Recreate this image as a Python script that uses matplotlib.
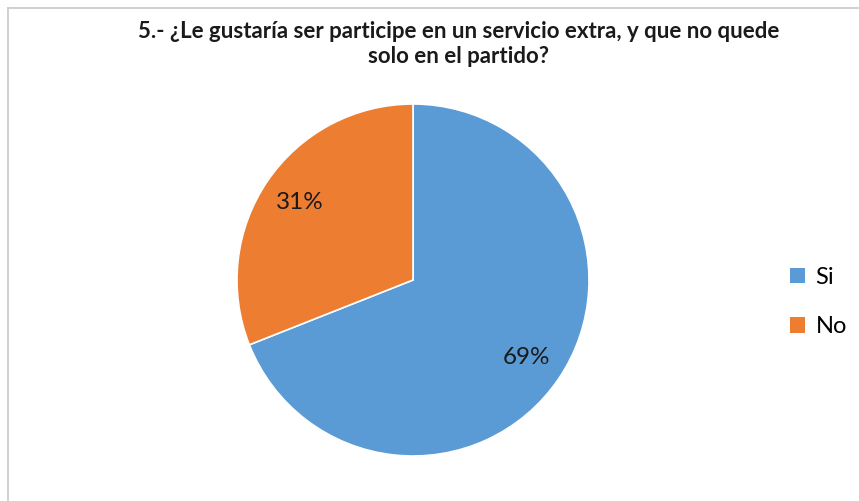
import matplotlib
matplotlib.use("Agg")
import matplotlib.pyplot as plt
from matplotlib.patches import Patch
from matplotlib.lines import Line2D

plt.rcParams['font.family'] = ['Lato', 'DejaVu Sans']

title = "5.- ¿Le gustaría ser participe en un servicio extra, y que no quede\nsolo en el partido?"
labels = ["Si", "No"]
values = [69, 31]
colors = ["#5B9BD5", "#ED7D31"]

W, H = 859, 501
fig = plt.figure(figsize=(W / 100, H / 100), dpi=100)

# chart frame (left and top edges visible)
fig.add_artist(Line2D([8 / W, 8 / W], [0, 1 - 8 / H], color="#c8c8c8", lw=1.2))
fig.add_artist(Line2D([8 / W, 1], [1 - 8 / H, 1 - 8 / H], color="#c8c8c8", lw=1.2))

cx, cy, r = 413, 280, 176
ax = fig.add_axes([(cx - r) / W, (H - cy - r) / H, 2 * r / W, 2 * r / H])
wedges, texts, autotexts = ax.pie(values, colors=colors, startangle=90, counterclock=False,
                                  autopct='%1.0f%%', pctdistance=0.78,
                                  wedgeprops=dict(linewidth=1.2, edgecolor='white'),
                                  textprops=dict(fontsize=17.5, color='#1a1a1a'))
ax.set_xlim(-1, 1)
ax.set_ylim(-1, 1)
ax.set_aspect('equal')
ax.axis('off')

fig.text(459 / W, 1 - 44 / H, title, ha='center', va='center', fontsize=16,
         fontweight='bold', color='#1a1a1a', linespacing=1.25)

handles = [Patch(facecolor=c, label=l) for c, l in zip(colors, labels)]
fig.legend(handles=handles, loc='center left', bbox_to_anchor=(773 / W, 1 - 302 / H),
           frameon=False, fontsize=17, handlelength=0.65, handleheight=0.65,
           handletextpad=0.45, labelspacing=1.2, borderpad=0.2)

fig.savefig("out.png", dpi=100)
